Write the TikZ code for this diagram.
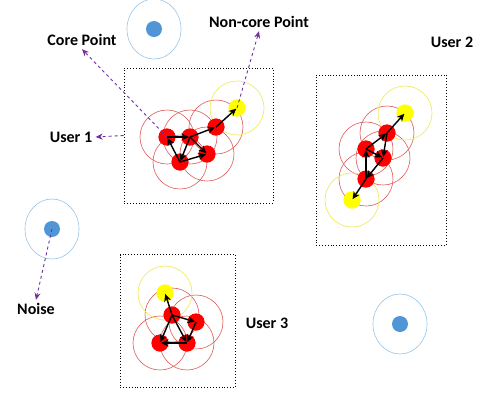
\documentclass[tikz,border=0pt]{standalone}
\usepackage{fontspec}
\setmainfont{Carlito}
\usetikzlibrary{arrows.meta, positioning, shapes}
\definecolor{PointRed}{RGB}{255,0,0}
\definecolor{PointYellow}{RGB}{255,255,0}
\definecolor{RingRed}{RGB}{225,90,90}
\definecolor{RingYellow}{RGB}{240,235,100}
\definecolor{NoiseBlue}{RGB}{80,150,215}
\definecolor{RingBlue}{RGB}{150,195,230}
\definecolor{ArrowPurple}{RGB}{112,48,160}

\tikzset{
  core/.style={circle, fill=PointRed, minimum size=17pt, inner sep=0pt},
  border/.style={circle, fill=PointYellow, minimum size=17pt, inner sep=0pt},
  noise/.style={circle, fill=NoiseBlue, minimum size=16pt, inner sep=0pt},
  userbox/.style={draw, dotted, line width=0.9pt, inner sep=0pt},
  label/.style={font=\fontsize{16}{18}\selectfont\bfseries},
  link/.style={line width=1.4pt, -{Stealth[length=7.5pt,width=7pt]}, shorten >=1pt},
  pointer/.style={dashed, line width=0.9pt, ArrowPurple, -{Stealth[length=7pt,width=6pt]}},
}

\begin{document}
\begin{tikzpicture}[x=1pt, y=-1pt]
\useasboundingbox (0,0) rectangle (491,392);
% user boxes
\node[userbox, minimum width=149pt, minimum height=135pt] (B1) at (198.5,135.5) {};
\node[userbox, minimum width=130pt, minimum height=170pt] (B2) at (381,160) {};
\node[userbox, minimum width=115pt, minimum height=133pt] (B3) at (177.5,321) {};
% labels
\node[label] (corelab) at (82,40) {Core Point};
\node[label] (nclab) at (259,22) {Non-core Point};
\node[label] (U1) at (71,137) {User 1};
\node[label] (U2) at (452,42) {User 2};
\node[label] (U3) at (267,323) {User 3};
\node[label] (noiselab) at (36,309) {Noise};
% user 1 points
\node[core] (a1) at (167,137) {};
\node[core] (a2) at (190,137) {};
\node[core] (a3) at (216,127) {};
\node[core] (a4) at (207,154) {};
\node[core] (a5) at (180,162) {};
\node[border] (ay) at (237,108) {};
% user 2 points
\node[core] (b1) at (387,133) {};
\node[core] (b2) at (366,149) {};
\node[core] (b3) at (383,158) {};
\node[core] (b4) at (366,179) {};
\node[border] (by1) at (405,113) {};
\node[border] (by2) at (352,200) {};
% user 3 points
\node[core] (c1) at (172,315) {};
\node[core] (c2) at (196,322) {};
\node[core] (c3) at (160,343) {};
\node[core] (c4) at (187,343) {};
\node[border] (cy) at (165,293) {};
% noise points
\node[noise] (n1) at (154,29) {};
\node[noise] (n2) at (52,229) {};
\node[noise] (n3) at (400,324) {};
% rings
\foreach \p in {a1,a2,a3,a4,a5,b1,b2,b3,b4,c1,c2,c3,c4}
  \draw[RingRed, line width=0.6pt] (\p.center) circle[radius=27pt];
\foreach \p in {ay,by1,by2,cy}
  \draw[RingYellow, line width=0.7pt] (\p.center) circle[radius=27pt];
\foreach \p in {n1,n2,n3}
  \draw[RingBlue, line width=0.6pt] (\p.center) ellipse[x radius=27pt, y radius=30pt];
% redraw points above rings
\foreach \p in {a1,a2,a3,a4,a5,b1,b2,b3,b4,c1,c2,c3,c4}
  \fill[PointRed] (\p.center) circle[radius=8.5pt];
\foreach \p in {ay,by1,by2,cy}
  \fill[PointYellow] (\p.center) circle[radius=8.5pt];
% links
\draw[link] (a1.center) -- (a2.center);
\draw[link] (a2.center) -- (a5.center);
\draw[link] (a5.center) -- (a1.center);
\draw[link] (a2.center) -- (a3.center);
\draw[link] (a2.center) -- (a4.center);
\draw[link] (a5.center) -- (a4.center);
\draw[link] (a3.center) -- (ay.center);
\draw[link] (b2.center) -- (b1.center);
\draw[link] (b1.center) -- (b3.center);
\draw[link] (b2.center) -- (b3.center);
\draw[link] (b4.center) -- (b2.center);
\draw[link] (b3.center) -- (b4.center);
\draw[link] (b1.center) -- (by1.center);
\draw[link] (b4.center) -- (by2.center);
\draw[link] (c1.center) -- (c2.center);
\draw[link] (c1.center) -- (c3.center);
\draw[link] (c1.center) -- (c4.center);
\draw[link] (c2.center) -- (c4.center);
\draw[link] (c4.center) -- (c3.center);
\draw[link] (c1.center) -- (cy.center);
% pointers
\draw[pointer] (a1.center) -- (corelab.south);
\draw[pointer] (ay.center) -- (nclab.south);
\draw[pointer] (B1.west) -- (U1.east);
\draw[pointer] (n2.center) -- (noiselab.north);
\end{tikzpicture}
\end{document}
